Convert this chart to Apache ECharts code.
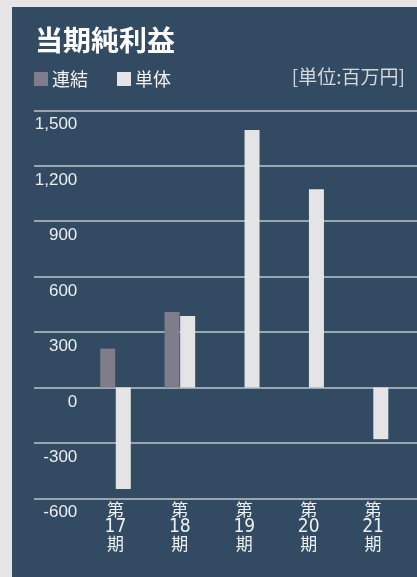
<!DOCTYPE html>
<html>
<head>
<meta charset="utf-8">
<script src="https://cdn.jsdelivr.net/npm/echarts@6/dist/echarts.min.js"></script>
<style>
  html, body { margin: 0; padding: 0; background: #e6e6e8; width: 417px; height: 577px; overflow: hidden; }
  #chart { position: absolute; left: 12px; top: 7px; width: 405px; height: 570px; }
</style>
</head>
<body>
<div id="chart"></div>
<script>
// 当期純利益（百万円）
const periods = ['17', '18', '19', '20', '21'];
const consolidated = [210, 408, null, null, null];   // 連結
const standalone = [-550, 386, 1393, 1073, -280];     // 単体
const yTicks = { min: -600, max: 1500, interval: 300 };

const CJK = '"Noto Sans CJK JP", sans-serif';
const LATIN = '"Liberation Sans", Arial, sans-serif';
const NARROW = '"Liberation Sans Narrow", "DejaVu Sans Condensed", "Liberation Sans", sans-serif';
const gridTop = 103.3;
const gridBottom = 78.7;

const chart = echarts.init(document.getElementById('chart'), null, { renderer: 'canvas' });

chart.setOption({
  backgroundColor: '#324b62',
  animation: false,
  title: [
    {
      text: '当期純利益',
      left: 23, top: 19, padding: 0,
      textStyle: { color: '#ffffff', fontFamily: CJK, fontWeight: 'bold', fontSize: 28 }
    },
    {
      text: '[単位:百万円]',
      right: 12, top: 60, padding: 0,
      textStyle: { color: '#d3d8dd', fontFamily: CJK, fontWeight: 'normal', fontSize: 19 }
    }
  ],
  legend: {
    left: 22, top: 63, padding: 0,
    itemWidth: 14, itemHeight: 14, itemGap: 29,
    icon: 'rect',
    selectedMode: false,
    textStyle: { color: '#f2f2f2', fontFamily: CJK, fontSize: 18, padding: [0, 0, 0, -1] },
    data: ['連結', '単体']
  },
  grid: [
    // full-width rules behind the bars
    { left: 22, right: 0, top: gridTop, bottom: gridBottom },
    // bar plotting area
    { left: 71.3, right: 11.8, top: gridTop, bottom: gridBottom }
  ],
  xAxis: [
    { gridIndex: 0, type: 'value', show: false, min: 0, max: 1 },
    {
      gridIndex: 1, type: 'category', data: periods,
      axisLine: { show: false }, axisTick: { show: false },
      axisLabel: {
        margin: 3,
        interval: 0,
        color: '#eef0f2',
        fontFamily: CJK,
        fontSize: 17,
        lineHeight: 17,
        formatter: v => '第\n{n|' + v + '}\n期',
        rich: {
          n: { fontFamily: NARROW, fontSize: 19, lineHeight: 17, color: '#eef0f2' }
        }
      }
    }
  ],
  yAxis: [
    {
      gridIndex: 0, type: 'value',
      min: yTicks.min, max: yTicks.max, interval: yTicks.interval,
      axisLine: { show: false }, axisTick: { show: false }, axisLabel: { show: false },
      splitLine: { show: true, lineStyle: { color: '#bcc5ce', width: 1.6 } }
    },
    {
      gridIndex: 1, type: 'value',
      min: yTicks.min, max: yTicks.max, interval: yTicks.interval,
      axisLine: { show: false }, axisTick: { show: false },
      splitLine: { show: false },
      axisLabel: {
        margin: 6,
        color: '#eceef0',
        fontFamily: LATIN,
        fontSize: 17,
        verticalAlign: 'top',
        padding: [6, 0, 0, 0],
        formatter: v => v.toLocaleString('en-US')
      }
    }
  ],
  series: [
    {
      name: '連結', type: 'bar', xAxisIndex: 1, yAxisIndex: 1,
      data: consolidated, barWidth: 15, barGap: '4%',
      itemStyle: { color: '#7f7c8b' }
    },
    {
      name: '単体', type: 'bar', xAxisIndex: 1, yAxisIndex: 1,
      data: standalone, barWidth: 15, barGap: '4%',
      itemStyle: { color: '#e4e4e6' }
    }
  ]
});
</script>
</body>
</html>
